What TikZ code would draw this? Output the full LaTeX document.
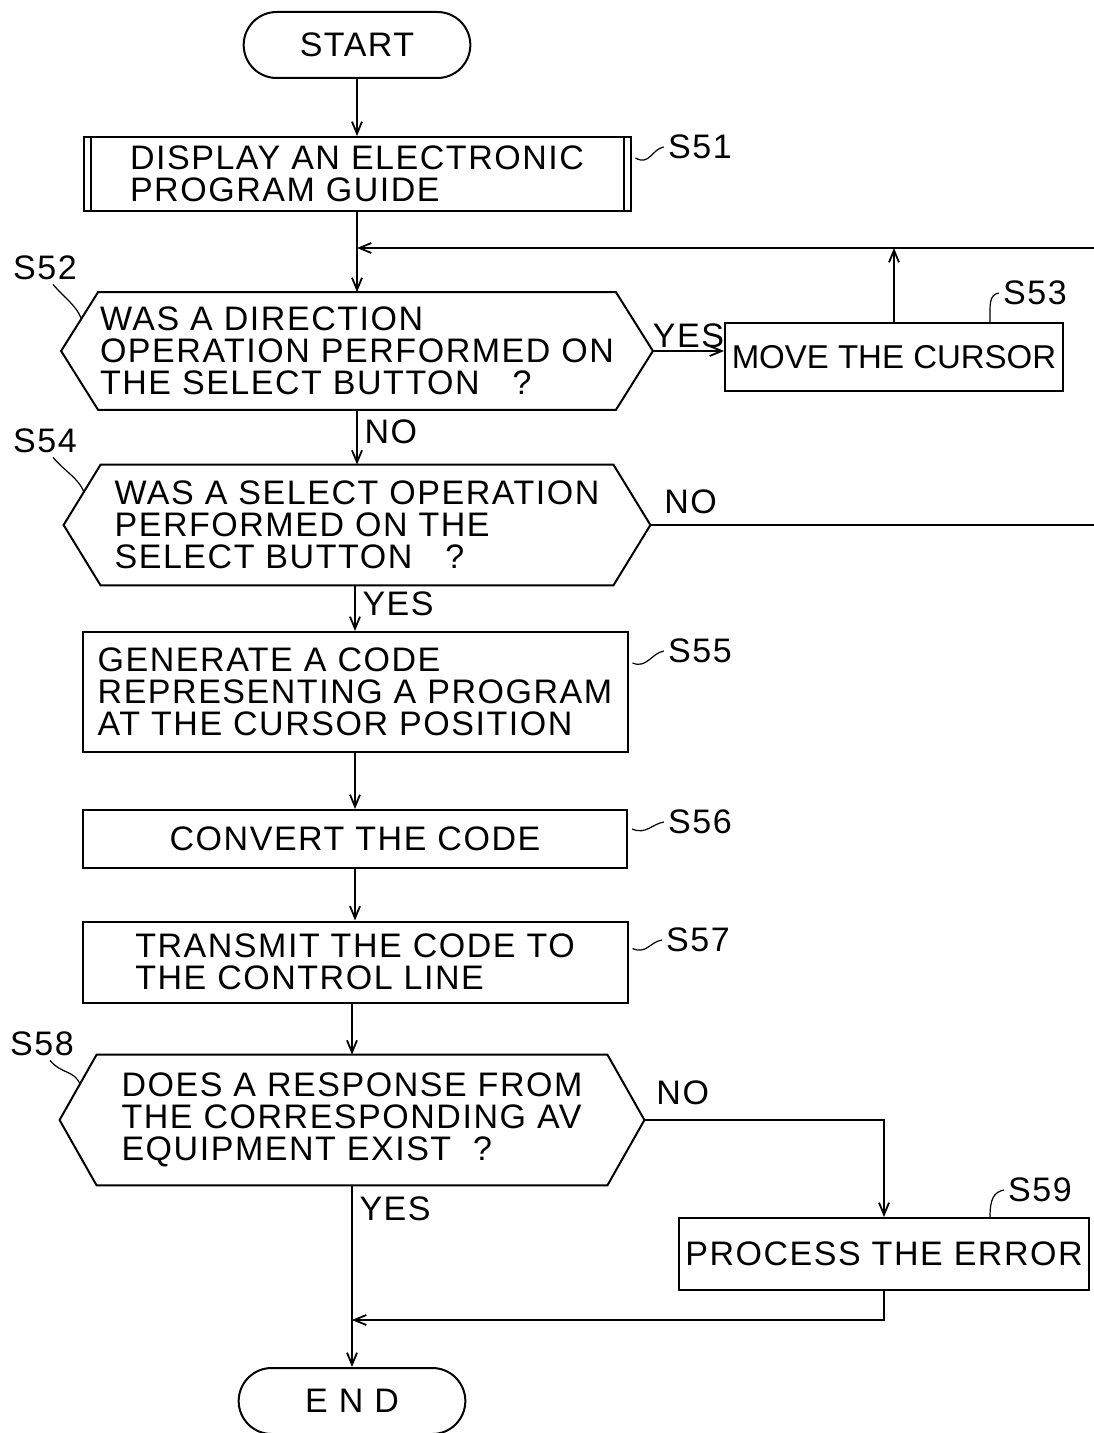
\documentclass[tikz,border=0pt]{standalone}
\usepackage{fontspec}
\setmainfont{Liberation Sans}
\usetikzlibrary{arrows.meta,positioning,shapes.misc,calc}

% hexagon drawn round a (plain) decision node
\newcommand{\hexout}[1]{%
  \coordinate (#1-r) at ([xshift=18.5pt]#1.east);
  \coordinate (#1-l) at ([xshift=-18.5pt]#1.west);
  \draw[line width=1pt] (#1.north west) -- (#1.north east) -- (#1-r)
    -- (#1.south east) -- (#1.south west) -- (#1-l) -- cycle;}

\begin{document}
\begin{tikzpicture}[x=0.5pt,y=-0.5pt,
      txt/.style={font=\fontsize{17}{16}\selectfont\addfontfeatures{LetterSpace=4.5}},
      terminal/.style={
         rounded rectangle,
         draw=black,
         line width=1pt,
         minimum width=120pt,
         minimum height=33pt,
         txt},
      procbox/.style={
         rectangle,
         draw=black,
         line width=1pt,
         align=left,
         txt},
      decision/.style={rectangle, align=left, inner sep=0pt, txt},
      steplabel/.style={txt, inner sep=2pt},
      squig/.style={line width=0.6pt},
      myarrow/.style={-{Straight Barb[length=6pt,width=5pt]}, line width=0.9pt}
      ]
      \useasboundingbox (0,0) rectangle (1093,1433);

      \node[terminal] (start) at (357,45) {START};
      \node[procbox, minimum width=273.5pt, minimum height=37pt] (s51) at (357,174)
         {DISPLAY AN ELECTRONIC\\PROGRAM GUIDE};
      \node[decision, minimum width=258.5pt, minimum height=58.5pt] (s52) at (357,351)
         {WAS A DIRECTION\\OPERATION PERFORMED ON\\THE SELECT BUTTON \ \ ?};
      \node[procbox, minimum width=169pt, minimum height=34pt, inner xsep=1pt,
            font=\fontsize{16.5}{16}\selectfont] (s53) at (894,357)
         {MOVE THE CURSOR};
      \node[decision, minimum width=256pt, minimum height=60pt] (s54) at (357,525)
         {WAS A SELECT OPERATION\\PERFORMED ON THE\\SELECT BUTTON \ \ ?};
      \node[procbox, minimum width=272.5pt, minimum height=60pt] (s55) at (355,692)
         {GENERATE A CODE\\REPRESENTING A PROGRAM\\AT THE CURSOR POSITION};
      \node[procbox, minimum width=272pt, minimum height=29pt] (s56) at (355,839)
         {CONVERT THE CODE};
      \node[procbox, minimum width=272.5pt, minimum height=40.5pt] (s57) at (355,962)
         {TRANSMIT THE CODE TO\\THE CONTROL LINE};
      \node[decision, minimum width=255pt, minimum height=65pt] (s58) at (352,1120)
         {DOES A RESPONSE FROM\\THE CORRESPONDING AV\\EQUIPMENT EXIST \ ?};
      \node[procbox, minimum width=202.5pt, minimum height=36pt] (s59) at (884,1254)
         {PROCESS THE ERROR};
      \node[terminal] (end) at (352,1401) {E N D};

      \hexout{s52}
      \hexout{s54}
      \hexout{s58}

      % inner rules of the predefined-process box
      \draw[line width=1pt] ([xshift=4pt]s51.north west) -- ([xshift=4pt]s51.south west);
      \draw[line width=1pt] ([xshift=-4pt]s51.north east) -- ([xshift=-4pt]s51.south east);

      % step labels
      \node[steplabel] (l51) at (700,147) {S51};
      \node[steplabel] (l52) at (45,268) {S52};
      \node[steplabel] (l53) at (1035,293) {S53};
      \node[steplabel] (l54) at (45,441) {S54};
      \node[steplabel] (l55) at (700,651) {S55};
      \node[steplabel] (l56) at (700,822) {S56};
      \node[steplabel] (l57) at (698,940) {S57};
      \node[steplabel] (l58) at (42,1044) {S58};
      \node[steplabel] (l59) at (1040,1190) {S59};

      \draw[squig] ([xshift=2pt,yshift=-11pt]s51.north east) .. controls +(14,8) and +(-12,2) .. (l51.west);
      \draw[squig] ([xshift=2pt,yshift=-16pt]s55.north east) .. controls +(14,6) and +(-12,2) .. (l55.west);
      \draw[squig] ([xshift=2pt,yshift=-10pt]s56.north east) .. controls +(14,6) and +(-12,2) .. (l56.west);
      \draw[squig] ([xshift=2pt,yshift=-14pt]s57.north east) .. controls +(14,6) and +(-12,2) .. (l57.west);
      \draw[squig] ([xshift=48pt]s53.north) .. controls +(0,-18) and +(-10,2) .. (l53.west);
      \draw[squig] ([xshift=53pt]s59.north) .. controls +(0,-18) and +(-10,2) .. (l59.west);
      \draw[squig] ([xshift=4pt]l52.south) .. controls +(12,14) and +(-6,-14) .. ($(s52-l)!0.55!(s52.north west)$);
      \draw[squig] ([xshift=4pt]l54.south) .. controls +(12,14) and +(-6,-14) .. ($(s54-l)!0.55!(s54.north west)$);
      \draw[squig] ([xshift=4pt]l58.south) .. controls +(12,14) and +(-6,-14) .. ($(s58-l)!0.55!(s58.north west)$);

      % main line
      \foreach \i/\j in {start/s51, s51/s52, s55/s56, s56/s57}
         \draw[myarrow] (\i) -- (\j);
      \draw[myarrow] (s57.south -| s58) -- (s58);
      \draw[myarrow] (s52) -- node[right, txt, pos=0.4] {NO} (s54);
      \draw[myarrow] (s54.south -| s55) -- node[right, txt, pos=0.4] {YES} (s55);
      \draw[myarrow] (s58) -- node[right, txt, pos=0.13] {YES} (end);

      % loop back over the top
      \coordinate (loopT) at (357,248);
      \coordinate (loopR) at (1097,248);
      \draw[myarrow] (s52-r) -- node[above, txt, yshift=-2pt] {YES} (s52-r -| s53.west);
      \draw[myarrow] (s53.north) -- (s53.north |- loopT);
      \draw[myarrow] (s54-r) -- node[above, txt, pos=0.09, yshift=2pt] {NO} (s54-r -| loopR) -- (loopR) -- (loopT);

      % error branch
      \coordinate (merge) at (352,1320);
      \draw[myarrow] (s58-r) -- node[above, txt, pos=0.16, yshift=4pt] {NO} (s58-r -| s59.north) -- (s59.north);
      \draw[myarrow] (s59.south) |- (merge);
\end{tikzpicture}
\end{document}
